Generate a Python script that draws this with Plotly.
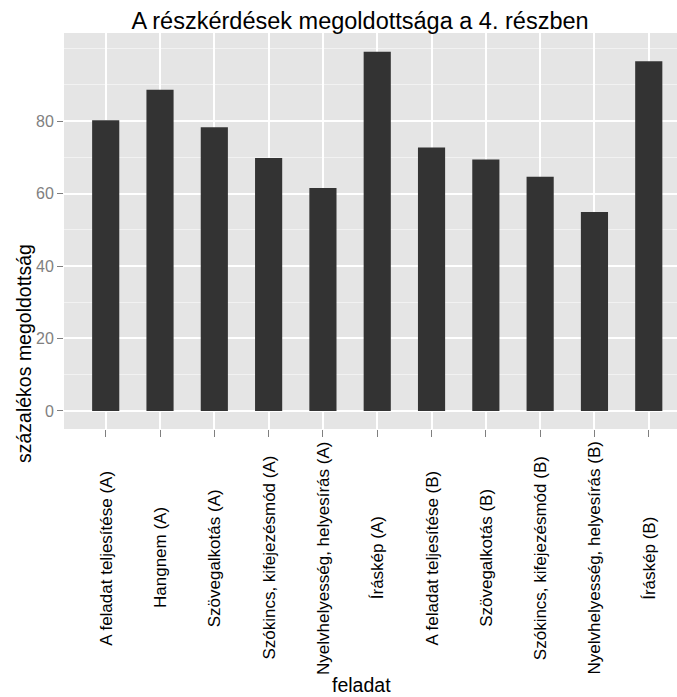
import plotly.graph_objects as go

categories = [
    "A feladat teljesítése (A)",
    "Hangnem (A)",
    "Szövegalkotás (A)",
    "Szókincs, kifejezésmód (A)",
    "Nyelvhelyesség, helyesírás (A)",
    "Íráskép (A)",
    "A feladat teljesítése (B)",
    "Szövegalkotás (B)",
    "Szókincs, kifejezésmód (B)",
    "Nyelvhelyesség, helyesírás (B)",
    "Íráskép (B)",
]
values = [80.2, 88.6, 78.3, 69.8, 61.5, 99.1, 72.7, 69.4, 64.6, 54.9, 96.5]
y_ticks = [0, 20, 40, 60, 80]
y_minor = [10, 30, 50, 70, 90, 100]

title_text = "A részkérdések megoldottsága a 4. részben"
x_title = "feladat"
y_title = "százalékos megoldottság"

W, H = 677, 697
ML, MR, MT, MB = 64, 0, 33, 268
PW = W - ML - MR
PH = H - MT - MB

FONT = "Liberation Sans, Arial, Helvetica, sans-serif"

fig = go.Figure()
fig.add_trace(go.Bar(
    x=categories, y=values, width=0.5,
    marker=dict(color="#333333", line=dict(width=0)),
    hoverinfo="x+y",
))

def px_x(p):
    return (p - ML) / PW

def px_y(p):
    return (H - MB - p) / PH

annotations = []
for c in categories:
    annotations.append(dict(
        x=c, xref="x", y=px_y(558), yref="paper",
        text=c, textangle=-90, showarrow=False,
        xanchor="center", yanchor="middle",
        font=dict(family=FONT, size=17, color="#000000"),
    ))
annotations.append(dict(
    x=px_x(361), xref="paper", y=px_y(685), yref="paper",
    text=x_title, showarrow=False, xanchor="center", yanchor="middle",
    font=dict(family=FONT, size=19.5, color="#000000"),
))
annotations.append(dict(
    x=px_x(24), xref="paper", y=px_y(354), yref="paper",
    text=y_title, textangle=-90, showarrow=False,
    xanchor="center", yanchor="middle",
    font=dict(family=FONT, size=19.5, color="#000000"),
))

fig.update_layout(
    width=W, height=H,
    margin=dict(l=ML, r=MR, t=MT, b=MB, pad=0),
    paper_bgcolor="#FFFFFF",
    plot_bgcolor="#E5E5E5",
    showlegend=False,
    bargap=0.5,
    title=dict(
        text=title_text, x=px_x(360), xref="paper", xanchor="center",
        y=1 - 21 / H, yref="container", yanchor="middle",
        font=dict(family=FONT, size=23.5, color="#000000"),
    ),
    annotations=annotations,
    xaxis=dict(
        type="category",
        range=[-0.768, 10.52],
        showticklabels=False,
        ticks="outside", ticklen=7, tickwidth=1.2, tickcolor="#7F7F7F",
        showgrid=True, gridcolor="#FFFFFF", gridwidth=1.6,
        showline=False, zeroline=False,
    ),
    yaxis=dict(
        range=[-4.97, 104.28],
        tickvals=y_ticks, ticktext=[str(v) for v in y_ticks],
        ticks="outside", ticklen=6, tickwidth=1.2, tickcolor="#7F7F7F",
        tickfont=dict(family=FONT, size=16, color="#7F7F7F"),
        showgrid=True, gridcolor="#FFFFFF", gridwidth=1.6,
        minor=dict(tickvals=y_minor, showgrid=True, gridcolor="#F2F2F2",
                   gridwidth=0.8, ticks=""),
        showline=False, zeroline=False,
    ),
)

fig.write_html(
    "out.html",
    config={"displayModeBar": False},
    post_script="document.body.style.margin='0';document.body.style.overflow='hidden';",
)
